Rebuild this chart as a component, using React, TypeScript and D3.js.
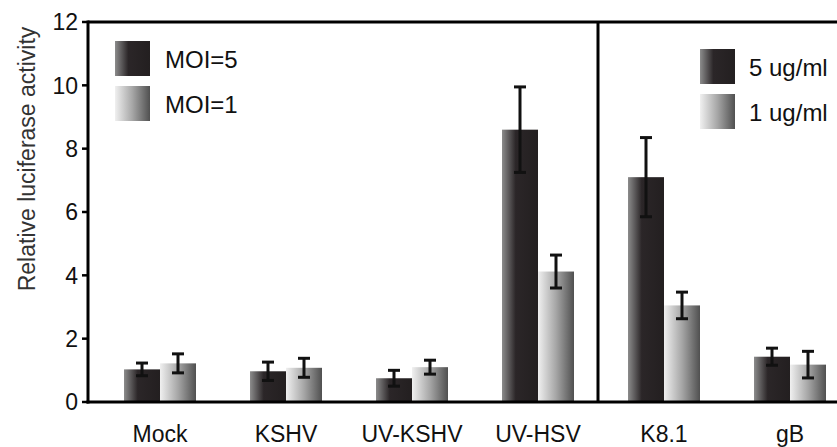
import * as d3 from "d3";
import { useEffect, useRef } from "react";

const categories = ["Mock", "KSHV", "UV-KSHV", "UV-HSV", "K8.1", "gB"];
const highValues = [1.03, 0.97, 0.75, 8.6, 7.1, 1.43];
const highErrors = [0.2, 0.29, 0.25, 1.35, 1.25, 0.27];
const lowValues = [1.22, 1.08, 1.1, 4.12, 3.05, 1.18];
const lowErrors = [0.3, 0.3, 0.22, 0.52, 0.42, 0.42];
const yTicks = [0, 2, 4, 6, 8, 10, 12];
const leftLegend = ["MOI=5", "MOI=1"];
const rightLegend = ["5 ug/ml", "1 ug/ml"];

const W = 837;
const H = 447;
const FONT = "'Liberation Sans', Arial, Helvetica, sans-serif";

const App = () => {
    const chartRef = useRef<SVGSVGElement | null>(null);

    useEffect(() => {
        document.body.style.margin = "0";
        const svg = d3.select(chartRef.current);
        svg.selectAll("*").remove();

        const x = d3.scaleBand().domain(categories).range([97, 853]).padding(0);
        const xs = d3.scaleBand().domain(["high", "low"]).range([0, x.bandwidth()]).paddingInner(0).paddingOuter(0.75);
        const y = d3.scaleLinear().domain([0, 12]).range([402, 22]);

        const defs = svg.append("defs");
        const darkGrad = defs.append("linearGradient").attr("id", "gDark");
        darkGrad.append("stop").attr("offset", "0%").attr("stop-color", "#8c8c8c");
        darkGrad.append("stop").attr("offset", "38%").attr("stop-color", "#2b2628");
        darkGrad.append("stop").attr("offset", "100%").attr("stop-color", "#231f20");
        const lightGrad = defs.append("linearGradient").attr("id", "gLight");
        lightGrad.append("stop").attr("offset", "0%").attr("stop-color", "#f0f0f0");
        lightGrad.append("stop").attr("offset", "50%").attr("stop-color", "#a6a6a6");
        lightGrad.append("stop").attr("offset", "100%").attr("stop-color", "#505050");

        const rows = categories.map((c, i) => ({
            c,
            bars: [
                { key: "high", v: highValues[i], e: highErrors[i] },
                { key: "low", v: lowValues[i], e: lowErrors[i] }
            ]
        }));

        // bars
        const groups = svg.selectAll(".grp")
            .data(rows)
            .enter()
            .append("g")
            .attr("transform", d => `translate(${x(d.c)}, 0)`);

        groups.selectAll("rect")
            .data(d => d.bars)
            .enter()
            .append("rect")
            .attr("x", d => xs(d.key)!)
            .attr("y", d => y(d.v))
            .attr("width", xs.bandwidth())
            .attr("height", d => y(0) - y(d.v))
            .attr("fill", d => d.key === "high" ? "url(#gDark)" : "url(#gLight)");

        // error bars
        const err = groups.selectAll(".err")
            .data(d => d.bars)
            .enter()
            .append("g")
            .attr("stroke", "#111")
            .attr("stroke-width", 3);
        err.append("line")
            .attr("x1", d => xs(d.key)! + xs.bandwidth() / 2)
            .attr("x2", d => xs(d.key)! + xs.bandwidth() / 2)
            .attr("y1", d => y(d.v + d.e))
            .attr("y2", d => y(d.v - d.e));
        [1, -1].forEach(s => {
            err.append("line")
                .attr("x1", d => xs(d.key)! + xs.bandwidth() / 2 - 6)
                .attr("x2", d => xs(d.key)! + xs.bandwidth() / 2 + 6)
                .attr("y1", d => y(d.v + s * d.e))
                .attr("y2", d => y(d.v + s * d.e));
        });

        // frame and axes
        svg.append("line").attr("x1", 88).attr("x2", W).attr("y1", y(12)).attr("y2", y(12))
            .attr("stroke", "#000").attr("stroke-width", 3);
        svg.append("line").attr("x1", 86.5).attr("x2", W).attr("y1", y(0)).attr("y2", y(0))
            .attr("stroke", "#000").attr("stroke-width", 3);
        svg.append("line").attr("x1", 88).attr("x2", 88).attr("y1", y(12) - 1.5).attr("y2", y(0) + 1.5)
            .attr("stroke", "#000").attr("stroke-width", 3);
        const divX = x("K8.1")! - 3;
        svg.append("line").attr("x1", divX).attr("x2", divX).attr("y1", y(12)).attr("y2", y(0))
            .attr("stroke", "#000").attr("stroke-width", 3);

        svg.selectAll(".tick")
            .data(yTicks)
            .enter()
            .append("line")
            .attr("x1", 82).attr("x2", 88)
            .attr("y1", d => y(d)).attr("y2", d => y(d))
            .attr("stroke", "#000").attr("stroke-width", 2.5);
        svg.selectAll(".tlab")
            .data(yTicks)
            .enter()
            .append("text")
            .attr("x", 78)
            .attr("y", d => y(d))
            .attr("dy", "0.36em")
            .attr("text-anchor", "end")
            .attr("font-family", FONT)
            .attr("font-size", 23)
            .attr("fill", "#111")
            .text(d => d);

        svg.selectAll(".xlab")
            .data(categories)
            .enter()
            .append("text")
            .attr("x", d => x(d)! + x.bandwidth() / 2)
            .attr("y", 442)
            .attr("text-anchor", "middle")
            .attr("font-family", FONT)
            .attr("font-size", 23)
            .attr("fill", "#111")
            .text(d => d);

        svg.append("text")
            .attr("transform", "translate(35, 159) rotate(-90)")
            .attr("text-anchor", "middle")
            .attr("font-family", FONT)
            .attr("font-size", 23)
            .attr("fill", "#333")
            .text("Relative luciferase activity");

        // legends
        const legend = (labels: string[], bx: number, by: number, gap: number, tx: number, sz: number) => {
            labels.forEach((l, i) => {
                svg.append("rect")
                    .attr("x", bx).attr("y", by + i * gap)
                    .attr("width", sz).attr("height", sz)
                    .attr("fill", i === 0 ? "url(#gDark)" : "url(#gLight)");
                svg.append("text")
                    .attr("x", tx).attr("y", by + i * gap + sz / 2)
                    .attr("dy", "0.4em")
                    .attr("font-family", FONT)
                    .attr("font-size", 24)
                    .attr("fill", "#111")
                    .text(l);
            });
        };
        legend(leftLegend, 115, 41, 45, 165, 35);
        legend(rightLegend, 700, 49, 45, 749, 35);
    }, []);

    return (
        <svg ref={chartRef} width={W} height={H} style={{ display: "block", background: "#fff" }}></svg>
    );
};

export default App;
